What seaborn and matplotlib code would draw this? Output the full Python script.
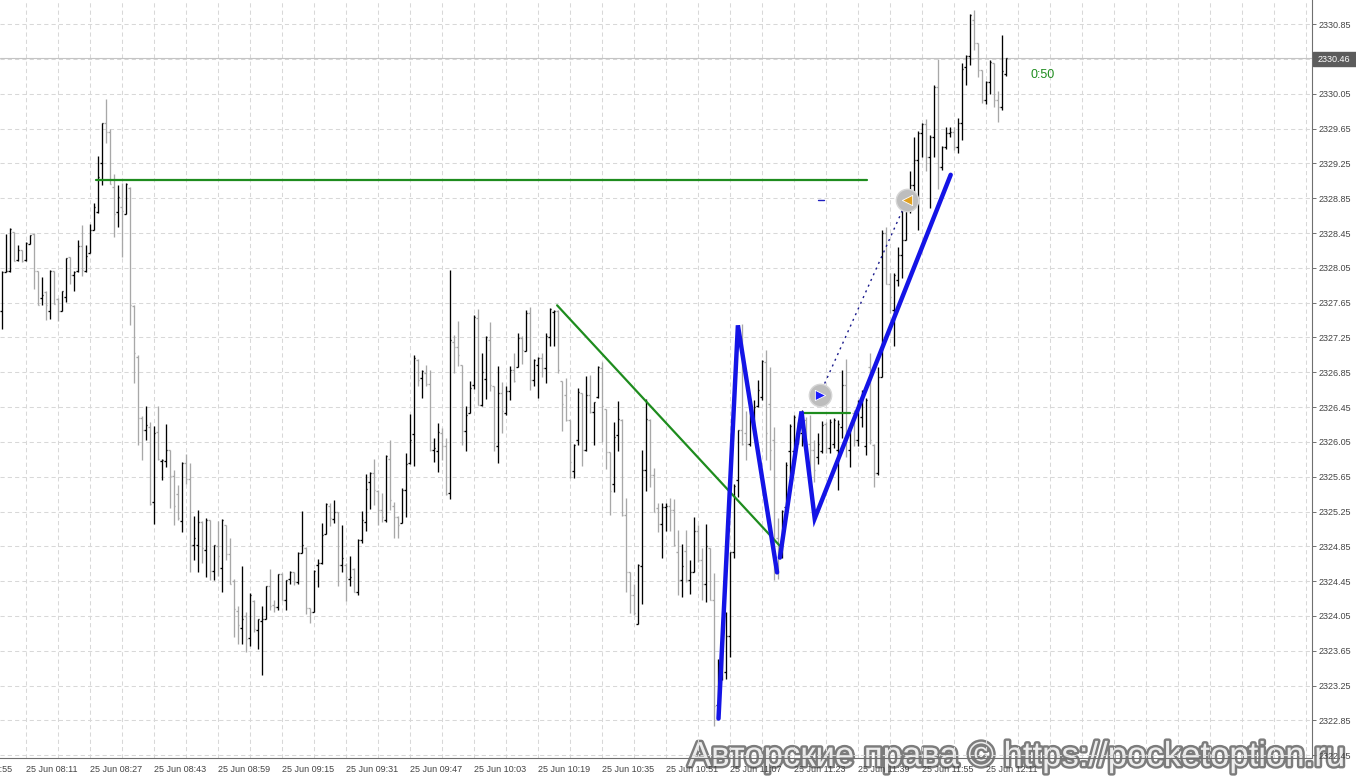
import numpy as np
import pandas as pd
import seaborn as sns
import matplotlib.pyplot as plt
import matplotlib.patheffects as pe
from matplotlib.patches import Rectangle

# M1 bars, 25 Jun 08:05 .. 12:16
opens = [
    2327.55, 2328.00, 2328.01, 2328.46, 2328.14, 2328.26, 2328.14, 2328.33, 2328.44, 2328.01,
    2327.70, 2327.77, 2327.56, 2328.01, 2327.69, 2327.56, 2327.72, 2328.17, 2327.97, 2328.01,
    2328.30, 2328.01, 2328.22, 2328.49, 2328.69, 2329.25, 2329.72, 2329.61, 2328.98, 2328.69,
    2328.75, 2328.67, 2328.97, 2327.61, 2327.03, 2326.33, 2326.19, 2326.22, 2325.36, 2326.16,
    2325.83, 2325.83, 2325.96, 2325.66, 2325.45, 2325.14, 2325.81, 2325.62, 2324.87, 2324.87,
    2325.13, 2324.81, 2325.15, 2324.57, 2324.85, 2324.60, 2325.09, 2324.76, 2324.45, 2324.11,
    2323.91, 2324.05, 2323.80, 2324.22, 2323.89, 2323.99, 2324.02, 2324.39, 2324.17, 2324.15,
    2324.53, 2324.23, 2324.48, 2324.55, 2324.44, 2324.77, 2324.83, 2324.14, 2324.09, 2324.63,
    2324.66, 2324.99, 2325.31, 2325.16, 2325.24, 2324.64, 2324.63, 2324.48, 2324.59, 2324.32,
    2324.92, 2325.13, 2325.59, 2325.69, 2325.49, 2325.27, 2325.15, 2325.85, 2325.31, 2325.19,
    2325.12, 2325.50, 2325.81, 2326.14, 2326.99, 2326.79, 2326.84, 2326.72, 2325.96, 2325.94,
    2326.15, 2326.00, 2325.46, 2327.20, 2327.14, 2326.93, 2326.17, 2326.38, 2326.70, 2327.47,
    2326.47, 2326.77, 2327.22, 2326.69, 2326.00, 2326.61, 2326.38, 2326.63, 2326.88, 2326.91,
    2327.24, 2327.10, 2327.53, 2326.76, 2326.93, 2327.02, 2326.90, 2327.26, 2327.54, 2327.56,
    2326.75, 2326.59, 2326.30, 2325.72, 2326.07, 2326.61, 2325.96, 2326.59, 2326.39, 2326.57,
    2326.90, 2326.43, 2325.93, 2325.57, 2326.13, 2326.30, 2325.21, 2324.55, 2324.29, 2323.96,
    2324.62, 2325.73, 2326.30, 2325.67, 2325.29, 2325.11, 2325.30, 2325.31, 2325.27, 2324.79,
    2324.46, 2324.80, 2324.46, 2324.55, 2325.03, 2324.69, 2324.42, 2324.83, 2324.23, 2323.03,
    2323.33, 2323.40, 2323.82, 2324.78, 2325.61, 2326.19, 2326.15, 2326.03, 2326.22, 2326.46,
    2326.57, 2326.97, 2326.49, 2326.07, 2324.95, 2324.75, 2325.30, 2325.94, 2325.94, 2326.07,
    2326.15, 2326.30, 2326.03, 2325.96, 2325.88, 2325.94, 2326.26, 2325.98, 2326.03, 2325.96,
    2326.22, 2326.70, 2325.96, 2326.38, 2326.07, 2326.34, 2326.00, 2326.91, 2326.02, 2325.69,
    2326.80, 2328.45, 2327.87, 2327.57, 2327.91, 2328.20, 2328.37, 2328.81, 2329.00, 2329.29,
    2329.60, 2329.70, 2329.33, 2329.56, 2330.13, 2329.21, 2329.44, 2329.60, 2329.61, 2329.44,
    2329.71, 2330.36, 2330.48, 2330.90, 2330.63, 2330.32, 2329.98, 2330.19, 2330.40, 2329.98,
    2329.90, 2330.28,
]
highs = [
    2328.01, 2328.44, 2328.51, 2328.46, 2328.31, 2328.26, 2328.35, 2328.43, 2328.45, 2328.02,
    2327.94, 2327.78, 2328.03, 2328.02, 2327.70, 2327.79, 2328.16, 2328.18, 2328.01, 2328.37,
    2328.54, 2328.31, 2328.56, 2328.80, 2329.34, 2329.71, 2329.99, 2329.65, 2329.13, 2329.00,
    2329.03, 2329.02, 2328.98, 2327.62, 2327.05, 2326.35, 2326.46, 2326.28, 2326.23, 2326.46,
    2325.85, 2326.26, 2325.96, 2325.73, 2325.55, 2325.82, 2325.91, 2325.81, 2325.20, 2325.27,
    2325.14, 2325.18, 2325.15, 2324.86, 2325.14, 2325.16, 2325.09, 2324.94, 2324.47, 2324.16,
    2324.62, 2324.10, 2324.31, 2324.23, 2324.01, 2324.16, 2324.39, 2324.59, 2324.23, 2324.53,
    2324.54, 2324.46, 2324.57, 2324.55, 2324.78, 2325.26, 2324.84, 2324.14, 2324.58, 2324.70,
    2325.12, 2325.35, 2325.35, 2325.38, 2325.24, 2325.09, 2324.66, 2324.74, 2324.60, 2324.93,
    2325.26, 2325.68, 2325.70, 2325.85, 2325.50, 2325.46, 2325.90, 2326.07, 2325.36, 2325.20,
    2325.52, 2325.92, 2326.37, 2327.05, 2327.00, 2326.88, 2326.93, 2326.88, 2326.10, 2326.27,
    2326.21, 2326.09, 2328.03, 2327.28, 2327.44, 2326.93, 2326.46, 2326.75, 2327.51, 2327.58,
    2327.07, 2327.27, 2327.43, 2326.69, 2326.92, 2326.74, 2326.69, 2326.92, 2327.07, 2327.30,
    2327.27, 2327.57, 2327.60, 2327.00, 2327.03, 2327.07, 2327.30, 2327.59, 2327.57, 2327.57,
    2326.75, 2326.79, 2326.30, 2326.03, 2326.67, 2326.61, 2326.81, 2326.82, 2326.51, 2326.92,
    2326.97, 2326.43, 2325.93, 2326.28, 2326.52, 2326.31, 2325.40, 2324.56, 2324.42, 2324.65,
    2325.96, 2326.54, 2326.31, 2325.75, 2325.35, 2325.35, 2325.35, 2325.41, 2325.39, 2325.04,
    2324.88, 2325.04, 2324.69, 2325.19, 2325.10, 2324.83, 2325.11, 2324.83, 2324.54, 2323.55,
    2323.77, 2324.10, 2324.79, 2325.57, 2326.19, 2327.41, 2326.40, 2326.53, 2326.53, 2326.76,
    2326.99, 2327.11, 2326.91, 2326.22, 2325.17, 2325.27, 2325.82, 2326.26, 2326.36, 2326.28,
    2326.42, 2326.34, 2326.36, 2326.07, 2326.15, 2326.29, 2326.28, 2326.31, 2326.32, 2326.30,
    2326.88, 2327.00, 2326.22, 2326.42, 2326.53, 2326.65, 2326.55, 2327.07, 2326.03, 2326.91,
    2328.49, 2328.52, 2327.99, 2327.99, 2328.29, 2328.81, 2328.93, 2329.16, 2329.56, 2329.62,
    2329.71, 2329.76, 2329.58, 2330.15, 2330.45, 2329.45, 2329.67, 2329.67, 2329.67, 2329.77,
    2330.40, 2330.50, 2330.97, 2331.01, 2330.64, 2330.33, 2330.20, 2330.44, 2330.41, 2330.08,
    2330.73, 2330.46,
]
lows = [
    2327.35, 2328.00, 2328.00, 2328.13, 2328.13, 2328.12, 2328.13, 2328.32, 2327.81, 2327.62,
    2327.62, 2327.45, 2327.46, 2327.64, 2327.44, 2327.55, 2327.66, 2327.87, 2327.78, 2328.00,
    2327.96, 2328.00, 2328.22, 2328.48, 2328.68, 2329.00, 2329.49, 2329.01, 2328.41, 2328.52,
    2328.18, 2328.67, 2327.39, 2326.73, 2326.02, 2325.84, 2326.07, 2325.33, 2325.11, 2325.84,
    2325.61, 2325.76, 2325.29, 2325.09, 2325.15, 2325.02, 2325.57, 2324.56, 2324.69, 2324.55,
    2324.66, 2324.50, 2324.46, 2324.46, 2324.51, 2324.32, 2324.69, 2324.42, 2323.81, 2323.73,
    2323.73, 2323.63, 2323.70, 2323.87, 2323.67, 2323.37, 2324.01, 2324.12, 2324.09, 2324.12,
    2324.23, 2324.12, 2324.42, 2324.41, 2324.42, 2324.77, 2324.07, 2323.97, 2324.09, 2324.38,
    2324.65, 2324.99, 2325.08, 2325.12, 2324.39, 2324.56, 2324.22, 2324.39, 2324.32, 2324.29,
    2324.89, 2325.03, 2325.28, 2325.33, 2325.10, 2325.13, 2325.13, 2325.27, 2324.94, 2324.94,
    2325.12, 2325.19, 2325.80, 2325.77, 2326.69, 2326.56, 2326.69, 2325.95, 2325.82, 2325.70,
    2325.84, 2325.44, 2325.39, 2326.84, 2326.92, 2326.01, 2325.95, 2326.38, 2326.66, 2326.47,
    2326.46, 2326.54, 2326.63, 2325.94, 2325.81, 2326.15, 2326.36, 2326.53, 2326.74, 2326.91,
    2326.95, 2327.10, 2326.65, 2326.69, 2326.56, 2326.80, 2326.73, 2327.15, 2327.15, 2326.84,
    2326.18, 2326.29, 2325.64, 2325.64, 2326.02, 2325.77, 2325.95, 2326.38, 2326.01, 2326.55,
    2326.05, 2325.74, 2325.21, 2325.47, 2325.94, 2325.20, 2324.32, 2324.08, 2324.06, 2323.96,
    2324.19, 2325.48, 2325.53, 2325.24, 2325.02, 2324.72, 2325.03, 2325.03, 2324.85, 2324.29,
    2324.27, 2324.44, 2324.30, 2324.55, 2324.67, 2324.23, 2324.21, 2324.23, 2322.79, 2322.87,
    2323.31, 2323.32, 2323.58, 2324.72, 2325.42, 2326.01, 2325.84, 2326.00, 2326.17, 2326.45,
    2326.53, 2325.84, 2325.73, 2324.46, 2324.48, 2324.71, 2325.23, 2325.65, 2325.90, 2326.03,
    2326.00, 2326.03, 2325.69, 2325.59, 2325.80, 2325.92, 2325.92, 2325.92, 2325.98, 2325.50,
    2326.09, 2325.88, 2325.76, 2326.00, 2326.00, 2326.22, 2325.90, 2326.03, 2325.53, 2325.67,
    2326.80, 2327.87, 2327.53, 2327.15, 2327.84, 2327.93, 2328.37, 2328.68, 2328.83, 2328.49,
    2329.33, 2329.16, 2328.74, 2329.33, 2328.96, 2329.18, 2329.42, 2329.56, 2329.41, 2329.37,
    2329.52, 2330.15, 2330.38, 2330.55, 2330.24, 2329.94, 2329.93, 2330.05, 2329.90, 2329.73,
    2329.86, 2330.26,
]
closes = [
    2328.00, 2328.02, 2328.50, 2328.13, 2328.25, 2328.13, 2328.34, 2328.43, 2328.01, 2327.62,
    2327.74, 2327.62, 2328.02, 2327.64, 2327.56, 2327.78, 2328.16, 2327.97, 2328.00, 2328.30,
    2328.03, 2328.19, 2328.48, 2328.75, 2329.10, 2329.71, 2329.61, 2329.01, 2328.67, 2328.86,
    2328.70, 2329.01, 2327.62, 2327.07, 2326.33, 2326.19, 2326.24, 2325.34, 2326.15, 2325.85,
    2325.84, 2325.96, 2325.66, 2325.31, 2325.17, 2325.81, 2325.62, 2324.86, 2324.94, 2325.13,
    2324.83, 2325.15, 2324.57, 2324.86, 2324.74, 2325.15, 2324.76, 2324.42, 2324.13, 2323.95,
    2324.01, 2323.78, 2324.29, 2323.90, 2324.01, 2324.02, 2324.39, 2324.16, 2324.15, 2324.53,
    2324.23, 2324.46, 2324.55, 2324.44, 2324.77, 2324.86, 2324.14, 2324.09, 2324.57, 2324.66,
    2324.98, 2325.34, 2325.17, 2325.24, 2324.63, 2324.71, 2324.50, 2324.50, 2324.32, 2324.92,
    2325.15, 2325.51, 2325.69, 2325.50, 2325.27, 2325.19, 2325.89, 2325.38, 2325.19, 2325.10,
    2325.50, 2325.80, 2326.07, 2327.01, 2326.76, 2326.87, 2326.72, 2325.96, 2325.98, 2326.16,
    2326.00, 2325.45, 2327.22, 2327.14, 2327.05, 2326.17, 2326.36, 2326.67, 2327.49, 2326.47,
    2326.85, 2327.26, 2326.70, 2326.04, 2326.61, 2326.41, 2326.63, 2326.88, 2326.75, 2327.24,
    2327.11, 2327.53, 2326.76, 2326.99, 2327.02, 2326.90, 2327.27, 2327.58, 2327.56, 2326.88,
    2326.49, 2326.30, 2325.82, 2326.02, 2326.62, 2325.96, 2326.59, 2326.39, 2326.51, 2326.91,
    2326.46, 2325.93, 2325.48, 2326.11, 2326.31, 2325.21, 2324.55, 2324.29, 2324.08, 2324.63,
    2325.73, 2326.31, 2325.67, 2325.25, 2325.11, 2325.30, 2325.31, 2325.27, 2324.86, 2324.46,
    2324.62, 2324.46, 2324.55, 2325.03, 2324.69, 2324.42, 2324.85, 2324.23, 2323.01, 2323.44,
    2323.73, 2323.82, 2324.78, 2325.54, 2326.19, 2326.03, 2326.03, 2326.42, 2326.45, 2326.65,
    2326.98, 2326.15, 2325.96, 2324.54, 2324.71, 2325.26, 2325.78, 2326.23, 2326.34, 2326.22,
    2326.17, 2326.05, 2325.96, 2325.73, 2326.03, 2326.24, 2325.98, 2326.28, 2326.30, 2326.26,
    2326.70, 2326.07, 2326.20, 2326.07, 2326.49, 2326.61, 2326.53, 2326.07, 2325.69, 2326.80,
    2328.45, 2327.87, 2327.72, 2327.97, 2328.20, 2328.37, 2328.81, 2329.00, 2329.29, 2329.60,
    2329.70, 2329.33, 2329.56, 2330.13, 2329.21, 2329.44, 2329.60, 2329.61, 2329.44, 2329.71,
    2330.34, 2330.48, 2330.96, 2330.63, 2330.32, 2329.98, 2330.19, 2330.42, 2329.98, 2329.90,
    2330.31, 2330.46,
]
first_bar_time = "2024-06-25 08:05"
bid = 2330.46

# drawn objects, x in bars from the first bar, y in price
level_x = [23.5, 216.3]
level_y = [2329.06, 2329.06]
trend_x = [138.9, 194.7]
trend_y = [2327.62, 2324.85]
small_level_x = [200.0, 212.0]
small_level_y = [2326.38, 2326.38]
zigzag1_x = [179.25, 184.1, 193.9]
zigzag1_y = [2322.87, 2327.39, 2324.55]
zigzag2_x = [194.6, 200.0, 203.3, 237.3]
zigzag2_y = [2324.72, 2326.40, 2325.17, 2329.12]
trade_x = [204.5, 226.4]
trade_y = [2326.59, 2328.83]

sns.set_style("white")
plt.rcParams['font.family'] = ['Liberation Sans', 'DejaVu Sans']

n = len(opens)
idx = np.arange(n)
df = pd.DataFrame({'open': opens, 'high': highs, 'low': lows, 'close': closes}, index=idx)
df['time'] = pd.date_range(first_bar_time, periods=n, freq='min')
df['up'] = df['close'] >= df['open']
bar_colors = np.where(df['up'], '#000000', '#a8a8a8')

fig = plt.figure(figsize=(13.56, 7.77), dpi=100, facecolor='white')
ax = fig.add_axes([0, 19 / 777, 1312 / 1356, 758 / 777])
ax.patch.set_alpha(0)
ax.set_xlim(-0.375, 327.625)
ax.set_ylim(2322.417, 2331.129)

# watermark sits under the axes, as in the screenshot
fig.text(688 / 1356, (777 - 766) / 777, 'Авторские права © https://pocketoption.ru',
         ha='left', va='baseline', fontsize=25, color='#ededed', zorder=-1,
         path_effects=[pe.withStroke(linewidth=3.5, foreground='#7c7c7c')])

# grid (dashed) like the terminal
grid_kw = dict(color='#d8d8d8', lw=0.75, ls=(0, (4, 3)), zorder=0)
yt = np.round(np.arange(2322.45, 2330.86, 0.4), 2)
for v in yt:
    ax.axhline(v, **grid_kw)
for k in range(6, 328, 8):
    ax.axvline(k, **grid_kw)
ax.axhline(bid, color='#c4c4c4', lw=0.8, zorder=1)

# OHLC bars
ax.vlines(idx, df['low'], df['high'], colors=bar_colors, lw=0.95, zorder=2)
ax.hlines(df['open'], idx - 0.45, idx, colors=bar_colors, lw=0.95, zorder=2)
ax.hlines(df['close'], idx, idx + 0.45, colors=bar_colors, lw=0.95, zorder=2)

# objects
green = '#1e8c1e'
blue = '#1414e6'
sns.lineplot(x=level_x, y=level_y, color=green, lw=1.6, ax=ax, sort=False, estimator=None, zorder=3)
sns.lineplot(x=trend_x, y=trend_y, color=green, lw=1.6, ax=ax, sort=False, estimator=None, zorder=3)
sns.lineplot(x=small_level_x, y=small_level_y, color=green, lw=1.6, ax=ax, sort=False, estimator=None, zorder=3)
sns.lineplot(x=zigzag1_x, y=zigzag1_y, color=blue, lw=3.2, ax=ax, sort=False, estimator=None, zorder=4,
             solid_joinstyle='miter')
sns.lineplot(x=zigzag2_x, y=zigzag2_y, color=blue, lw=3.2, ax=ax, sort=False, estimator=None, zorder=4,
             solid_joinstyle='miter')
ax.plot(trade_x, trade_y, color='#1a1a8c', lw=1.0, ls=(0, (1.5, 3)), zorder=4)
ax.scatter(trade_x, trade_y, s=260, color='#bdbdbd', edgecolors='#d6d6d6', linewidths=1.0, zorder=5)
ax.scatter(trade_x[:1], trade_y[:1], s=55, marker='>', color='#1a1aff', edgecolors='white', linewidths=0.6, zorder=6)
ax.scatter(trade_x[1:], trade_y[1:], s=55, marker='<', color='#e0a020', edgecolors='white', linewidths=0.6, zorder=6)
ax.plot([204.2, 205.7], [trade_y[1], trade_y[1]], color='#2020c0', lw=1.0, zorder=4)
ax.text(257.25, 2330.27, '0:50', color=green, fontsize=9, va='center', ha='left')

# axes: right price scale, bottom time scale
for s in ['top', 'left']:
    ax.spines[s].set_visible(False)
for s in ['right', 'bottom']:
    ax.spines[s].set_color('#707070')
    ax.spines[s].set_linewidth(0.8)
ax.yaxis.tick_right()
ax.set_yticks(yt)
ax.set_yticklabels(['' if abs(v - 2330.45) < 1e-6 else f'{v:.2f}' for v in yt])
ax.tick_params(axis='y', direction='out', length=3, width=0.7, color='#707070', pad=2,
               labelsize=6.5, labelcolor='#444444')

label_bars = idx[(idx - 6) % 16 == 0]
ax.set_xticks(label_bars)
ax.set_xticklabels([t.strftime('25 Jun %H:%M') for t in df.loc[label_bars, 'time']])
ax.tick_params(axis='x', direction='out', length=3, width=0.7, color='#707070', pad=2,
               labelsize=6.5, labelcolor='#444444')
for lab in ax.get_xticklabels():
    lab.set_horizontalalignment('left')
prev_time = df['time'].iloc[0] - pd.Timedelta(minutes=10)
ax.annotate(prev_time.strftime('25 Jun %H:%M'), xy=(-10.4, 0), xycoords=('data', 'axes fraction'),
            xytext=(0, -5), textcoords='offset points', ha='left', va='top',
            fontsize=6.5, color='#444444', annotation_clip=False)
ax.set_xlabel('')
ax.set_ylabel('')

# current price tag
fig.add_artist(Rectangle((1313 / 1356, (777 - 66) / 777), 43 / 1356, 14 / 777,
                         transform=fig.transFigure, color='#5c5c5c'))
fig.text(1318 / 1356, (777 - 59) / 777, f'{bid:.2f}', color='white', fontsize=6.5, va='center', ha='left')

fig.savefig('out.png', dpi=100, facecolor='white')
